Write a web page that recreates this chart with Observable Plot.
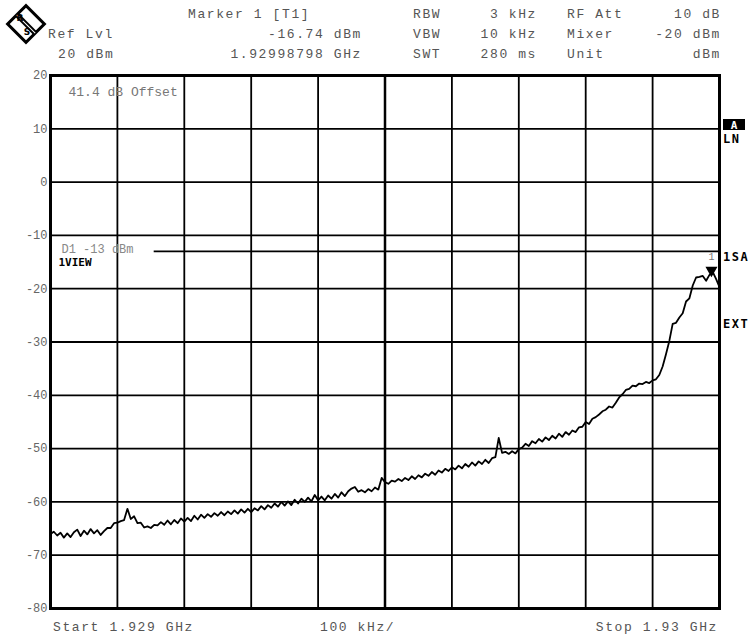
<!DOCTYPE html>
<html><head><meta charset="utf-8">
<script src="https://cdn.jsdelivr.net/npm/d3@7"></script>
<script src="https://cdn.jsdelivr.net/npm/@observablehq/plot@0.6"></script>
<style>body{margin:0;background:#fff;} #chart svg{display:block;}</style>
</head><body><div id="chart"></div>
<script>
// ---- data ----
const startLabel = "Start 1.929 GHz";
const stopLabel = "Stop 1.93 GHz";
const spanLabel = "100 kHz/";
const stepKHz = 5; // sweep point spacing (kHz offset from start)
const levels = [
  -66.0,-65.6,-66.3,-65.8,-66.7,-65.9,-66.6,-65.7,-65.2,-66.4,
  -65.4,-66.1,-65.1,-65.9,-65.3,-66.2,-65.5,-64.9,-64.9,-64.0,
  -63.9,-63.6,-63.4,-61.3,-63.2,-62.7,-64.0,-63.9,-64.8,-64.6,
  -64.9,-64.3,-64.4,-63.8,-64.3,-63.5,-64.2,-63.4,-64.0,-63.1,
  -63.7,-63.0,-63.6,-62.6,-63.3,-62.4,-63.0,-62.3,-62.8,-62.1,
  -62.6,-61.9,-62.5,-61.8,-62.3,-61.6,-62.2,-61.4,-62.0,-61.3,
  -61.9,-61.2,-61.6,-60.8,-61.4,-60.6,-61.1,-60.3,-60.9,-60.0,
  -60.7,-59.9,-60.6,-59.6,-60.3,-59.4,-60.0,-59.2,-59.9,-58.7,
  -59.7,-59.0,-59.7,-58.8,-59.4,-58.5,-59.2,-58.2,-58.9,-58.0,
  -57.5,-57.2,-58.1,-57.8,-58.2,-57.6,-58.0,-57.3,-57.7,-55.5,
  -56.3,-56.6,-56.0,-56.2,-55.7,-56.1,-55.5,-55.9,-55.2,-55.7,
  -55.0,-55.4,-54.7,-55.1,-54.4,-54.9,-54.1,-54.5,-53.8,-54.2,
  -53.5,-53.9,-53.2,-53.7,-52.9,-53.4,-52.6,-53.2,-52.4,-52.9,
  -52.1,-52.7,-51.8,-51.6,-48.0,-50.8,-50.6,-51.0,-50.5,-50.9,
  -50.1,-49.8,-49.1,-49.5,-48.6,-49.0,-48.2,-48.7,-47.9,-48.4,
  -47.6,-48.1,-47.2,-47.8,-46.9,-47.4,-46.6,-46.9,-46.0,-45.9,
  -45.0,-45.4,-44.4,-44.1,-43.6,-43.0,-42.7,-42.1,-42.3,-41.4,
  -40.4,-39.8,-39.0,-38.8,-38.2,-38.3,-37.8,-37.9,-37.5,-37.7,
  -37.2,-37.0,-36.2,-34.6,-32.3,-29.8,-26.6,-26.4,-25.4,-24.6,
  -22.4,-21.8,-19.4,-17.9,-17.8,-17.6,-18.5,-17.4,-16.9,-18.2,
  -19.7
];
const yTicks = [20,10,0,-10,-20,-30,-40,-50,-60,-70,-80];
const xGridKHz = [0,100,200,300,400,500,600,700,800,900,1000];
const displayLineLevel = -13;
const displayLineLabel = "D1 -13 dBm";
const markerFreqKHz = 987.98;
const markerLevel = -16.74;
const headerCol1 = ["Ref Lvl", "20 dBm"];
const headerCol2 = ["Marker 1 [T1]", "-16.74 dBm", "1.92998798 GHz"];
const headerCol3 = ["RBW", "VBW", "SWT"];
const headerCol4 = ["3 kHz", "10 kHz", "280 ms"];
const headerCol5 = ["RF Att", "Mixer", "Unit"];
const headerCol6 = ["10 dB", "-20 dBm", "dBm"];
const offsetLabel = "41.4 dB Offset";
const viewLabel = "1VIEW";
const sideLabels = ["A", "LN", "1SA", "EXT"];

// ---- chart ----
const trace = levels.map((v, i) => ({f: i * stepKHz, db: v}));
const W = 754, H = 639;
const mono = "'Liberation Mono', 'DejaVu Sans Mono', monospace";

const chart = Plot.plot({
  width: W, height: H,
  marginTop: 75, marginBottom: 31, marginLeft: 50, marginRight: 35,
  x: {domain: [0, 1000], axis: null},
  y: {domain: [-80, 20]},
  style: {background: "#fff"},
  marks: [
    Plot.ruleY(yTicks, {stroke: "#000", strokeWidth: 1.8}),
    Plot.ruleX(xGridKHz, {stroke: "#000", strokeWidth: d => d === 500 ? 2.5 : 1.8}),
    Plot.ruleY([displayLineLevel], {x1: 155, x2: 1000, stroke: "#000", strokeWidth: 1.8}),
    Plot.frame({stroke: "#000", strokeWidth: 3}),
    Plot.axisY({ticks: yTicks, tickSize: 0, tickPadding: 3, label: null,
      fontFamily: mono, fontSize: 12, fill: "#666", tickFormat: d => String(d)}),
    Plot.line(trace, {x: "f", y: "db", stroke: "#000", strokeWidth: 1.8, curve: "linear"}),
    Plot.dot([{f: markerFreqKHz, db: markerLevel}], {x: "f", y: "db", symbol: "triangle", rotate: 180,
      r: 3.5, fill: "#000", stroke: "#000", dy: -1}),
    Plot.text([{f: markerFreqKHz, db: markerLevel}], {x: "f", y: "db", text: () => "1", dy: -15,
      fill: "#777", fontFamily: mono, fontSize: 10}),
    Plot.text([displayLineLabel], {frameAnchor: "top-left", dx: 11, dy: 169, fill: "#888",
      fontFamily: mono, fontSize: 12, text: d => d, textAnchor: "start"}),
    Plot.text([viewLabel], {frameAnchor: "top-left", dx: 8, dy: 183, fill: "#000", fontWeight: "bold",
      fontFamily: "'DejaVu Sans Mono', monospace", fontSize: 11, text: d => d, textAnchor: "start"}),
    Plot.text([offsetLabel], {frameAnchor: "top-left", dx: 18, dy: 11, fill: "#777",
      fontFamily: mono, fontSize: 13, text: d => d, textAnchor: "start"})
  ]
});

const svg = d3.select(chart);
svg.style("overflow", "visible");
function t(txt, x, y, anchor, opts = {}) {
  svg.append("text").attr("x", x).attr("y", y).attr("text-anchor", anchor || "start")
    .attr("font-family", opts.family || mono).attr("font-size", opts.size || 13)
    .attr("letter-spacing", opts.ls != null ? opts.ls : 1.6)
    .attr("font-weight", opts.weight || "normal")
    .attr("fill", opts.fill || "#555").text(txt);
}
// header
const rows = [18, 38, 58];
t(headerCol1[0], 48, rows[1], "start");
t(headerCol1[1], 58, rows[2], "start");
t(headerCol2[0], 188, rows[0], "start");
t(headerCol2[1], 362, rows[1], "end");
t(headerCol2[2], 362, rows[2], "end");
headerCol3.forEach((s, i) => t(s, 413, rows[i], "start"));
headerCol4.forEach((s, i) => t(s, 537, rows[i], "end"));
headerCol5.forEach((s, i) => t(s, 567, rows[i], "start"));
headerCol6.forEach((s, i) => t(s, 721, rows[i], "end"));
// footer
t(startLabel, 53, 631, "start");
t(spanLabel, 320, 631, "start");
t(stopLabel, 718, 631, "end");
// side labels
svg.append("rect").attr("x", 723).attr("y", 119).attr("width", 22).attr("height", 11).attr("fill", "#000");
t(sideLabels[0], 734, 129, "middle", {fill: "#fff", weight: "bold", size: 11, ls: 0, family: "'DejaVu Sans Mono', monospace"});
t(sideLabels[1], 723, 143, "start", {fill: "#000", weight: "bold", size: 12, ls: 1.5, family: "'DejaVu Sans Mono', monospace"});
t(sideLabels[2], 723, 261, "start", {fill: "#000", weight: "bold", size: 12, ls: 1.5, family: "'DejaVu Sans Mono', monospace"});
t(sideLabels[3], 723, 328, "start", {fill: "#000", weight: "bold", size: 12, ls: 1.5, family: "'DejaVu Sans Mono', monospace"});
// logo (diamond)
const g = svg.append("g").attr("transform", "translate(26,24) rotate(45)");
g.append("rect").attr("x", -13).attr("y", -13).attr("width", 26).attr("height", 26)
  .attr("fill", "#fff").attr("stroke", "#000").attr("stroke-width", 3);
g.append("rect").attr("x", -13).attr("y", -2.5).attr("width", 26).attr("height", 5).attr("fill", "#000");
g.append("line").attr("x1", -13).attr("x2", 13).attr("y1", 0).attr("y2", 0).attr("stroke", "#fff").attr("stroke-width", 1);
svg.append("text").attr("x", 20).attr("y", 21).attr("font-family", "'DejaVu Sans', sans-serif").attr("font-size", 9)
  .attr("font-weight", "bold").attr("fill", "#000").text("R");
svg.append("text").attr("x", 27).attr("y", 35).attr("font-family", "'DejaVu Sans', sans-serif").attr("font-size", 9)
  .attr("font-weight", "bold").attr("fill", "#000").text("S");

document.getElementById("chart").appendChild(chart);
</script>
</body></html>
